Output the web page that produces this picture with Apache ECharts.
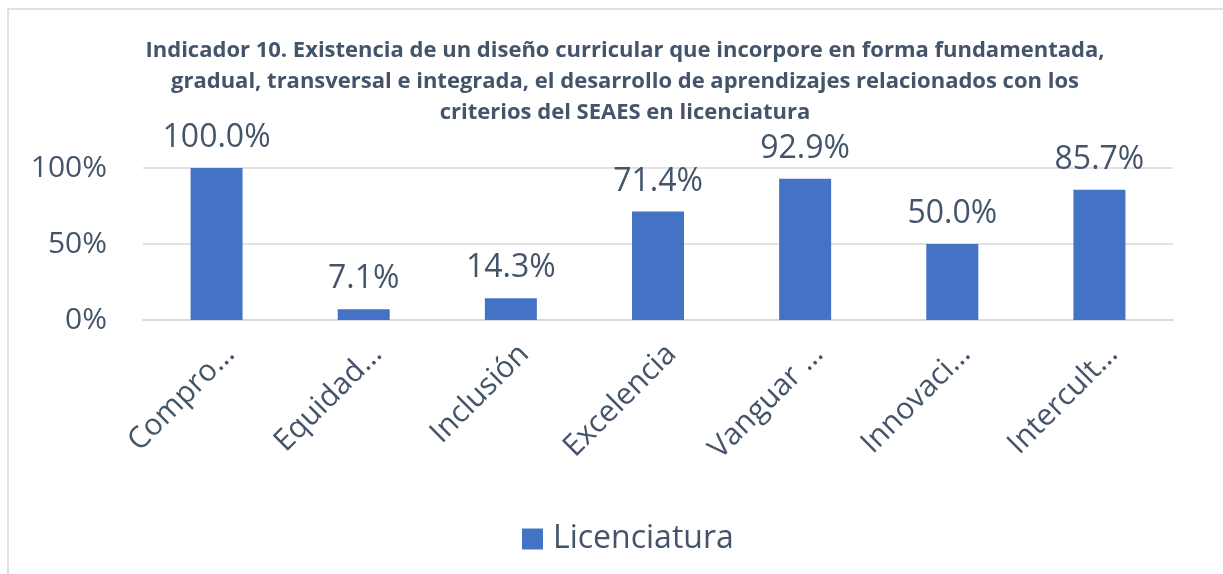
<!DOCTYPE html>
<html>
<head>
<meta charset="utf-8">
<script src="https://cdn.jsdelivr.net/npm/echarts@6/dist/echarts.min.js"></script>
<style>
  html, body { margin: 0; padding: 0; background: #fff; }
  #chart { width: 1223px; height: 574px; }
</style>
</head>
<body>
<div id="chart"></div>
<script>
var titleText = 'Indicador 10. Existencia de un diseño curricular que incorpore en forma fundamentada,\n' +
  'gradual, transversal e integrada, el desarrollo de aprendizajes relacionados con los\n' +
  'criterios del SEAES en licenciatura';
var categories = ['Compro…', 'Equidad…', 'Inclusión', 'Excelencia', 'Vanguar …', 'Innovaci…', 'Intercult…'];
var licenciatura = [100.0, 7.1, 14.3, 71.4, 92.9, 50.0, 85.7];
var yTicks = [0, 50, 100];

var textColor = '#44546A';
var mainFont = '"Open Sans", "Noto Sans", sans-serif';

var option = {
  backgroundColor: '#fff',
  animation: false,
  graphic: [{
    type: 'rect',
    shape: { x: 8, y: 9, width: 1400, height: 800 },
    style: { fill: 'none', stroke: '#d9d9d9', lineWidth: 1.5 },
    silent: true
  }],
  title: {
    text: titleText,
    left: 620,
    top: 30,
    textAlign: 'center',
    textStyle: {
      fontFamily: mainFont,
      fontWeight: 'bold',
      fontSize: 22,
      lineHeight: 31,
      color: textColor
    }
  },
  legend: {
    data: ['Licenciatura'],
    left: 517,
    top: 518,
    itemWidth: 21,
    itemHeight: 21,
    icon: 'rect',
    textStyle: { fontFamily: mainFont, fontSize: 32, color: textColor, padding: [0, 0, 0, 5] }
  },
  grid: { left: 143, right: 50, top: 168, bottom: 254, containLabel: false },
  xAxis: {
    type: 'category',
    data: categories,
    axisLine: { show: true, lineStyle: { color: '#d9d9d9', width: 2 } },
    axisTick: { show: false },
    axisLabel: {
      rotate: 45,
      interval: 0,
      margin: 16,
      fontFamily: mainFont,
      fontSize: 30,
      color: textColor,
      verticalAlign: 'top',
      padding: [4, 0, 0, 0]
    }
  },
  yAxis: {
    type: 'value',
    min: 0,
    max: 100,
    interval: 50,
    axisLine: { show: false },
    axisTick: { show: false },
    splitLine: { lineStyle: { color: '#d9d9d9', width: 1.5 } },
    axisLabel: {
      margin: 36,
      fontFamily: mainFont,
      fontSize: 30,
      color: textColor,
      formatter: function (v) { return yTicks.indexOf(v) >= 0 ? v + '%' : ''; }
    }
  },
  series: [{
    name: 'Licenciatura',
    type: 'bar',
    data: licenciatura,
    barWidth: 52,
    itemStyle: { color: '#4472C4' },
    label: {
      show: true,
      position: 'top',
      distance: 14,
      fontFamily: mainFont,
      fontSize: 32,
      color: textColor,
      formatter: function (p) { return p.value.toFixed(1) + '%'; }
    }
  }]
};

var myChart = echarts.init(document.getElementById('chart'));
myChart.setOption(option);
</script>
</body>
</html>
